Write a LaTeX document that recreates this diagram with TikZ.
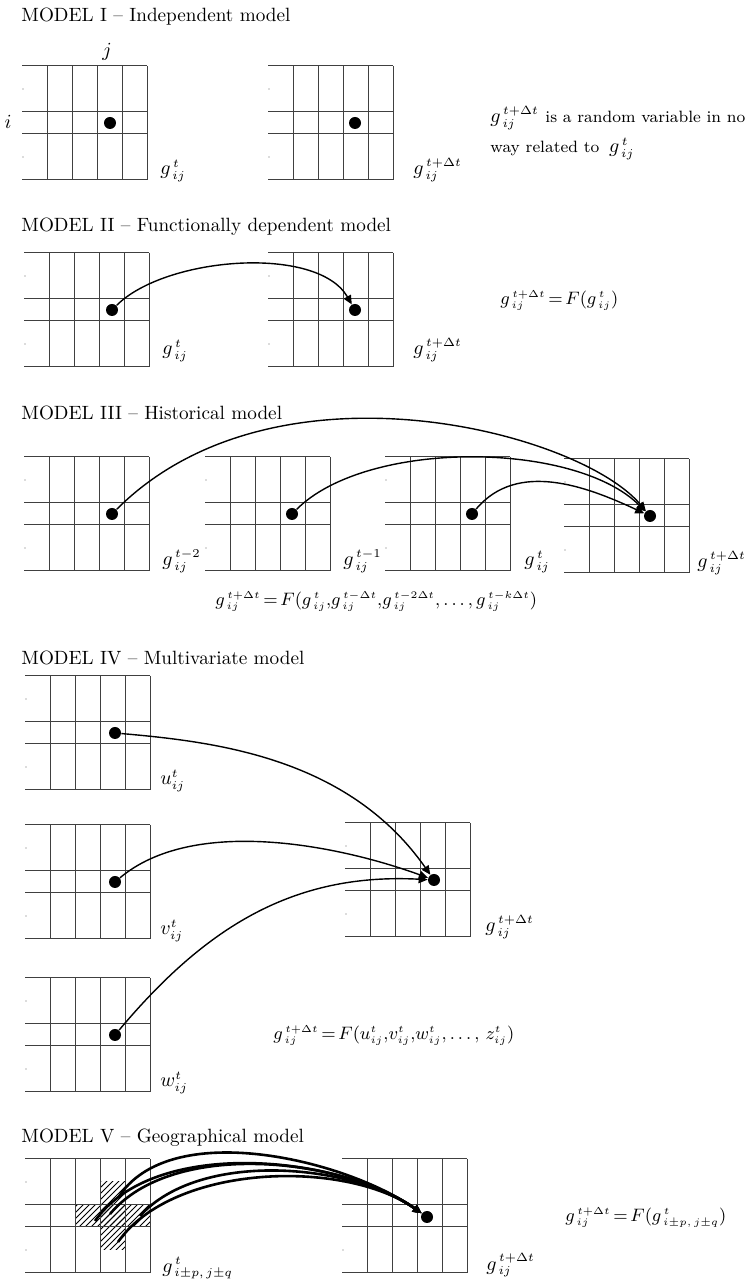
\documentclass[tikz,border=0pt]{standalone}
\usetikzlibrary{arrows.meta,patterns}
\DeclareMathSizes{9.8}{9.8}{6}{5}
\DeclareMathSizes{8.8}{8.8}{5.5}{4.5}

\tikzset{
  gridline/.style={draw=black!75, line width=0.5pt},
  celldot/.style={circle, fill=black, inner sep=0pt, minimum size=6pt},
  link/.style={-{Triangle[length=4.5pt,width=4pt]}, line width=0.7pt},
  heavylink/.style={link, line width=1.3pt},
  heading/.style={anchor=base west, inner sep=0pt, font={\fontsize{9.6}{11}\selectfont}},
  lbl/.style={anchor=base west, inner sep=0pt, font={\fontsize{9.8}{11}\selectfont}},
  eqn/.style={anchor=base west, inner sep=0pt, font={\fontsize{8.8}{10}\selectfont},
    execute at begin node={\thickmuskip=2.5mu\medmuskip=2mu}},
}

% one 5 x 3 cell grid, #1 = left, #2 = top
\newcommand{\cellgrid}[2]{%
  \draw[gridline] (#1,#2) -- ++(125,0) (#1,#2-46) -- ++(125,0)
    (#1,#2-68) -- ++(125,0) (#1,#2-114) -- ++(125,0);
  \foreach \k in {25,50,...,125}
    \draw[gridline] (#1+\k,#2) -- ++(0,-114);
  \fill[black!60] (#1+1,#2-23) circle (0.6) (#1+1,#2-91) circle (0.6);
}

\begin{document}
\begin{tikzpicture}[x=0.5pt, y=0.5pt]

\useasboundingbox (0,0) rectangle (751,1288);

% MODEL I
\node [heading] (title-1) at (21, 1266) {MODEL I -- Independent model};
\cellgrid{22}{1222}
\cellgrid{268}{1222}
\node [font={\fontsize{9.8}{11}\selectfont}] (col-j) at (107, 1236) {$j$};
\node [font={\fontsize{9.8}{11}\selectfont}] (row-i) at (8, 1166) {$i$};
\node [celldot] (m1a) at (110, 1165) {};
\node [celldot] (m1b) at (355, 1165) {};
\node [lbl] (lab-1a) at (160, 1113) {$g_{\,ij}^{\,t}$};
\node [lbl] (lab-1b) at (413, 1113) {$g_{\,ij}^{\,t+\Delta t}$};
\node [lbl] (note-1) at (490, 1165)
  {$g_{\,ij}^{\,t+\Delta t}$\ {\fontsize{8.2}{10}\selectfont is a random variable in no}};
\node [lbl] (note-2) at (490, 1135)
  {{\fontsize{8.2}{10}\selectfont way related to}\ \,$g_{\,ij}^{\,t}$};

% MODEL II
\node [heading] (title-2) at (21, 1056) {MODEL II -- Functionally dependent model};
\cellgrid{24}{1035}
\cellgrid{268}{1035}
\node [celldot] (m2a) at (112, 978) {};
\node [celldot] (m2b) at (355, 978) {};
\node [lbl] (lab-2a) at (162, 933) {$g_{\,ij}^{\,t}$};
\node [lbl] (lab-2b) at (413, 933) {$g_{\,ij}^{\,t+\Delta t}$};
\node [eqn] (eq-2) at (500, 983) {$g_{\,ij}^{\,t+\Delta t} = F(g_{\,ij}^{\,t})$};
\draw [link] (m2a) to [out=45, in=120, looseness=0.75] (m2b);

% MODEL III
\node [heading] (title-3) at (21, 868) {MODEL III -- Historical model};
\cellgrid{24}{831}
\cellgrid{205}{831}
\cellgrid{385}{831}
\cellgrid{564}{829}
\node [celldot] (m3a) at (112, 774) {};
\node [celldot] (m3b) at (292, 774) {};
\node [celldot] (m3c) at (472, 774) {};
\node [celldot] (m3d) at (650, 772) {};
\node [lbl] (lab-3a) at (162, 722) {$g_{\,ij}^{\,t-2}$};
\node [lbl] (lab-3b) at (343, 722) {$g_{\,ij}^{\,t-1}$};
\node [lbl] (lab-3c) at (524, 722) {$g_{\,ij}^{\,t}$};
\node [lbl] (lab-3d) at (697, 720) {$g_{\,ij}^{\,t+\Delta t}$};
\node [eqn] (eq-3) at (215, 682)
  {$g_{\,ij}^{\,t+\Delta t} = F(g_{\,ij}^{\,t}{,}g_{\,ij}^{\,t-\Delta t}{,}g_{\,ij}^{\,t-2\Delta t}{,}\ldots{,}\,g_{\,ij}^{\,t-k\Delta t})$};
\draw [link] (m3a) .. controls +(45:230) and +(130:110) .. (m3d);
\draw [link] (m3b) to [out=45, in=135, looseness=0.73] (m3d);
\draw [link] (m3c) to [out=50, in=155, looseness=0.97] (m3d);

% MODEL IV
\node [heading] (title-4) at (21, 623) {MODEL IV -- Multivariate model};
\cellgrid{25}{612}
\cellgrid{25}{463}
\cellgrid{25}{310}
\cellgrid{345}{465}
\node [celldot] (u) at (115, 555) {};
\node [celldot] (v) at (115, 406) {};
\node [celldot] (w) at (115, 253) {};
\node [celldot] (t4) at (434, 408) {};
\node [lbl] (lab-u) at (160, 503) {$u_{ij}^{t}$};
\node [lbl] (lab-v) at (160, 353) {$v_{ij}^{t}$};
\node [lbl] (lab-w) at (160, 201) {$w_{ij}^{t}$};
\node [lbl] (lab-t4) at (485, 356) {$g_{\,ij}^{\,t+\Delta t}$};
\node [eqn] (eq-4) at (273, 248)
  {$g_{\,ij}^{\,t+\Delta t} = F(u_{ij}^{t}{,}v_{ij}^{t}{,}w_{ij}^{t}{,}\ldots{,}\ z_{ij}^{t})$};
\draw [link] (u) .. controls +(-5:100) and +(125:150) .. (t4);
\draw [link] (v) to [out=40, in=160, looseness=0.8] (t4);
\draw [link] (w) to [out=50, in=177] (t4);

% MODEL V
\node [heading] (title-5) at (21, 145) {MODEL V -- Geographical model};
\fill [pattern=north east lines] (100,106) rectangle (125,38);
\fill [pattern=north east lines] (75,83) rectangle (150,61);
\cellgrid{25}{129}
\cellgrid{342}{129}
\node [celldot] (t5) at (427, 71) {};
\coordinate (hu) at (118, 90);
\coordinate (hl) at (95, 67);
\coordinate (hc) at (110, 74);
\coordinate (hr) at (140, 72);
\coordinate (hd) at (118, 46);
\node [lbl] (lab-5a) at (162, 16) {$g_{\,i\pm p,\,j\pm q}^{\,t}$};
\node [lbl] (lab-5b) at (486, 18) {$g_{\,ij}^{\,t+\Delta t}$};
\node [eqn] (eq-5) at (565, 66) {$g_{\,ij}^{\,t+\Delta t} = F(g_{\,i\pm p,\,j\pm q}^{\,t})$};
\foreach \s/\a in {hu/58, hl/55, hc/50, hr/48, hd/55}
  \draw [heavylink] (\s) to [out=\a, in=145, looseness=0.8] (t5);

\end{tikzpicture}
\end{document}
